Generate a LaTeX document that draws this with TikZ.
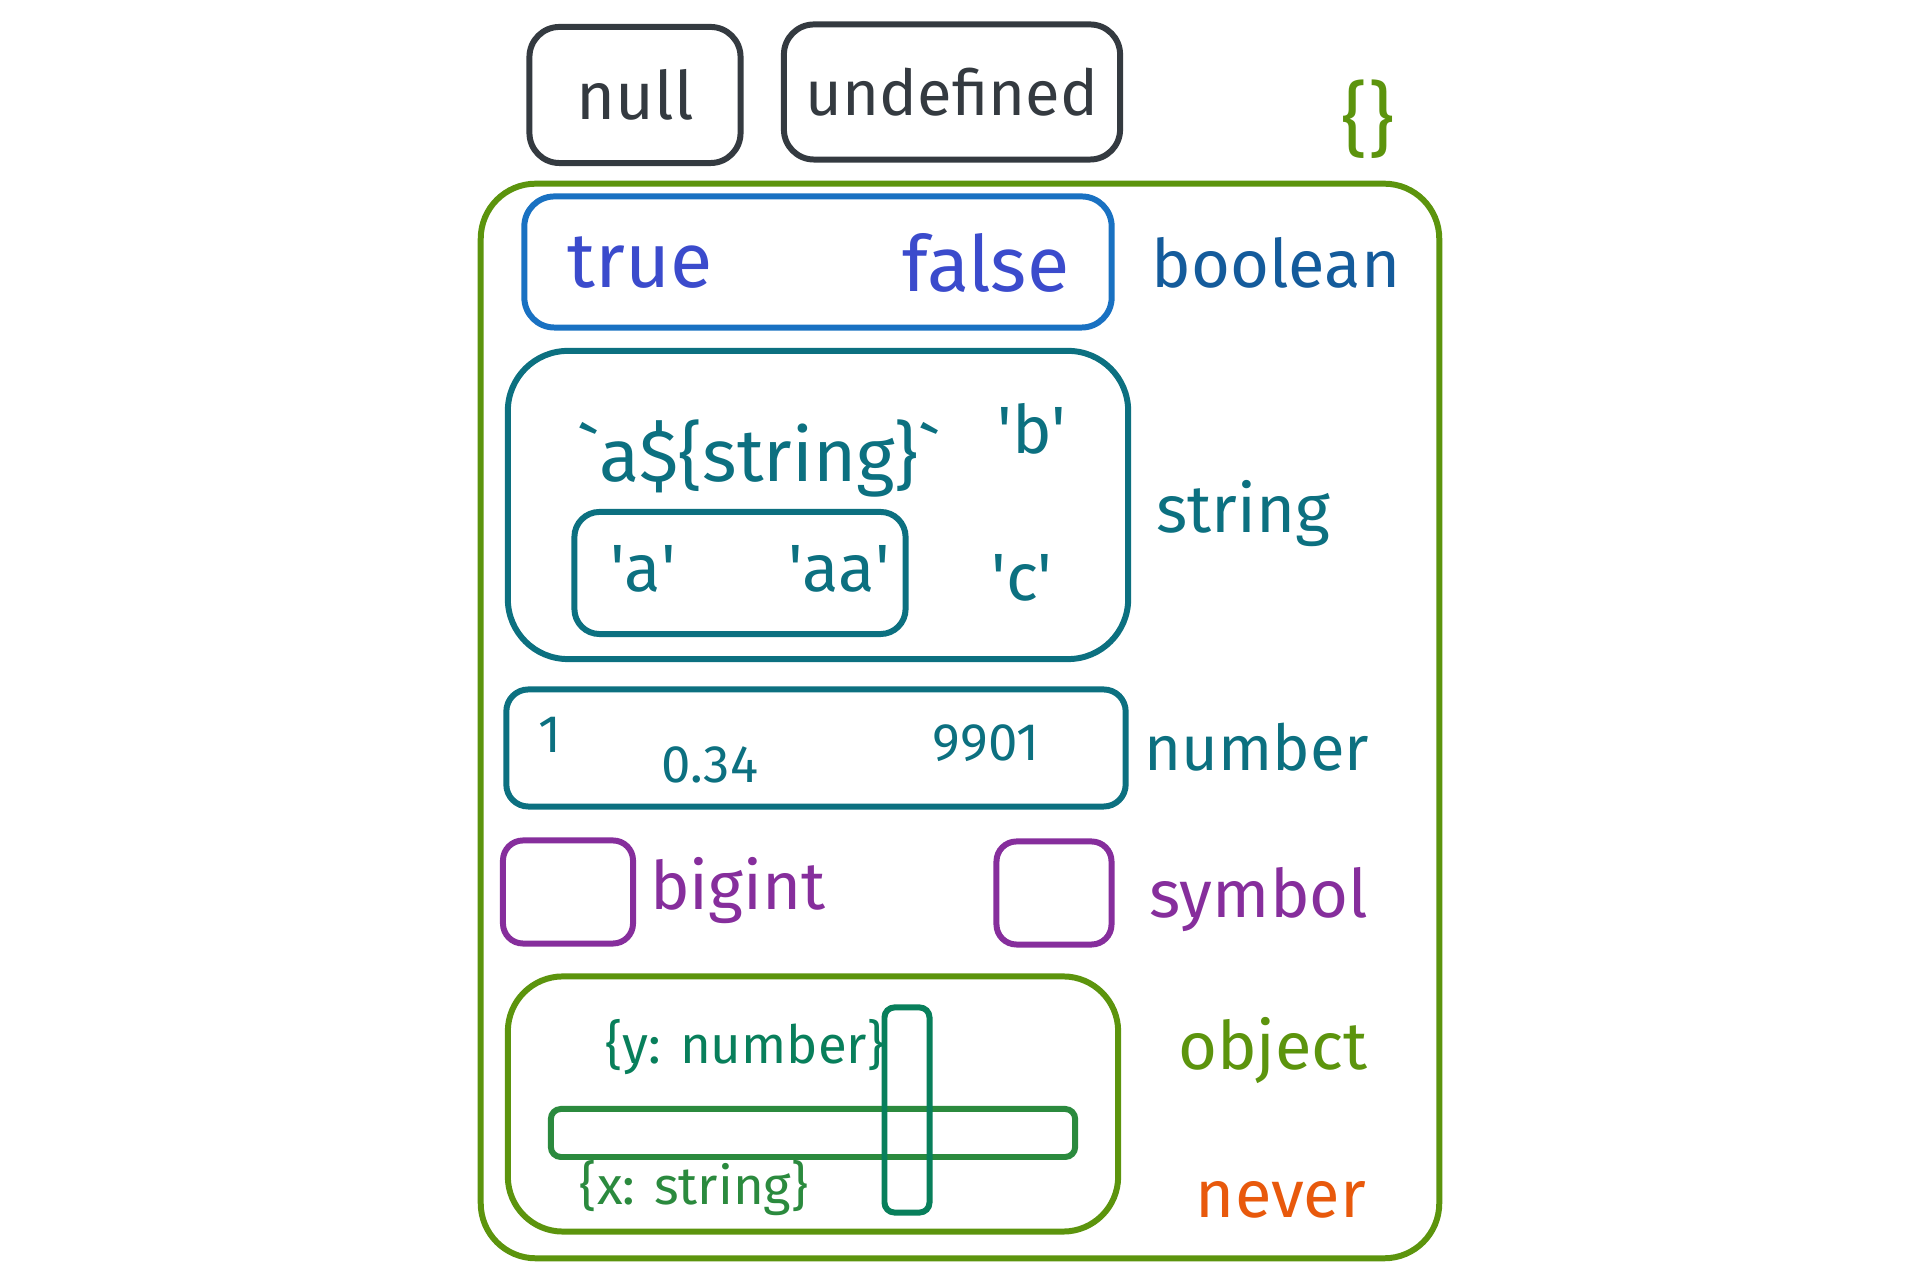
\documentclass[tikz,border=0pt]{standalone}
\usepackage{fontspec}
\setmainfont{Fira Sans}
\usepackage{xcolor}
\usetikzlibrary{positioning}

\definecolor{inkgray}{HTML}{343A40}
\definecolor{objgreen}{HTML}{5C940D}
\definecolor{boolblue}{HTML}{1971C2}
\definecolor{boolindigo}{HTML}{3B4BCC}
\definecolor{strteal}{HTML}{0C7080}
\definecolor{sympurple}{HTML}{862E9C}
\definecolor{fieldgreen}{HTML}{2B8A3E}
\definecolor{fieldteal}{HTML}{087F5B}
\definecolor{neverorange}{HTML}{E8590C}

\begin{document}
\begin{tikzpicture}[x=0.01cm, y=-0.01cm,
    box/.style={rectangle, draw, line width=1.7pt, rounded corners=#1, inner sep=0pt},
    box/.default=0.25cm,
    big/.style={font=\fontsize{19}{22}\selectfont, inner sep=0pt},
    huge/.style={font=\fontsize{22}{26}\selectfont, inner sep=0pt},
    small/.style={font=\fontsize{15}{18}\selectfont, inner sep=0pt}]

    \useasboundingbox (0,0) rectangle (1920,1280);

    % top level values
    \node[box=0.3cm, draw=inkgray, minimum width=2.11cm, minimum height=1.36cm] (nullbox) at (635,95) {};
    \node[big, text=inkgray] (null) at (nullbox) {null};
    \node[box=0.3cm, draw=inkgray, minimum width=3.36cm, minimum height=1.35cm] (undefbox) at (952,92) {};
    \node[big, text=inkgray, font=\fontsize{18}{21}\selectfont] (undefined) at (undefbox) {undefined};
    \node[font=\fontsize{23}{26}\selectfont, text=objgreen] (braces) at (1368,119) {\{\}};

    % object universe
    \node[box=0.55cm, draw=objgreen, minimum width=9.58cm, minimum height=10.74cm] (outer) at (960,721) {};

    % boolean
    \node[box=0.3cm, draw=boolblue, minimum width=5.87cm, minimum height=1.31cm] (boolbox) at (818,262) {};
    \node[huge, text=boolindigo] (true) at (640,263) {true};
    \node[huge, text=boolindigo] (false) at (986,263) {false};
    \node[big, text=boolblue!80!black] (boolean) at (1276,263) {boolean};

    % string
    \node[box=0.6cm, draw=strteal, minimum width=6.2cm, minimum height=3.08cm] (strbox) at (818,505) {};
    \node[big, text=strteal, font=\fontsize{21}{24}\selectfont] (template) at (759,459) {\textasciigrave a\$\{string\}\textasciigrave};
    \node[big, text=strteal] (b) at (1032,429) {\textquotesingle b\textquotesingle};
    \node[box=0.25cm, draw=strteal, minimum width=3.31cm, minimum height=1.22cm] (abox) at (740,573) {};
    \node[big, text=strteal] (a) at (643,569) {\textquotesingle a\textquotesingle};
    \node[big, text=strteal] (aa) at (839,569) {\textquotesingle aa\textquotesingle};
    \node[big, text=strteal] (c) at (1022,578) {\textquotesingle c\textquotesingle};
    \node[big, text=strteal] (string) at (1243,514) {string};

    % number
    \node[box=0.22cm, draw=strteal, minimum width=6.19cm, minimum height=1.17cm] (numbox) at (816,748) {};
    \node[small, text=strteal] (one) at (550,735) {1};
    \node[small, text=strteal] (frac) at (710,765) {0.34};
    \node[small, text=strteal] (big) at (986,743) {9901};
    \node[big, text=strteal, font=\fontsize{18}{21}\selectfont] (number) at (1257,747) {number};

    % bigint and symbol
    \node[box=0.2cm, draw=sympurple, minimum width=1.3cm, minimum height=1.03cm] (bigbox) at (568,892) {};
    \node[big, text=sympurple] (bigint) at (738,891) {bigint};
    \node[box=0.2cm, draw=sympurple, minimum width=1.15cm, minimum height=1.03cm] (symbox) at (1054,893) {};
    \node[big, text=sympurple] (symbol) at (1259,900) {symbol};

    % object
    \node[box=0.55cm, draw=objgreen, minimum width=6.1cm, minimum height=2.55cm] (objbox) at (813,1104) {};
    \node[box=0.1cm, draw=fieldgreen, minimum width=5.24cm, minimum height=0.48cm] (xbar) at (813,1133) {};
    \node[box=0.1cm, draw=fieldteal, minimum width=0.45cm, minimum height=2.05cm] (ybar) at (907,1110) {};
    \node[small, text=fieldteal] (yfield) at (745,1047) {\{y: number\}};
    \node[small, text=fieldgreen] (xfield) at (694,1188) {\{x: string\}};
    \node[big, text=objgreen] (object) at (1273,1051) {object};
    \node[big, text=neverorange] (never) at (1281,1200) {never};
\end{tikzpicture}
\end{document}
